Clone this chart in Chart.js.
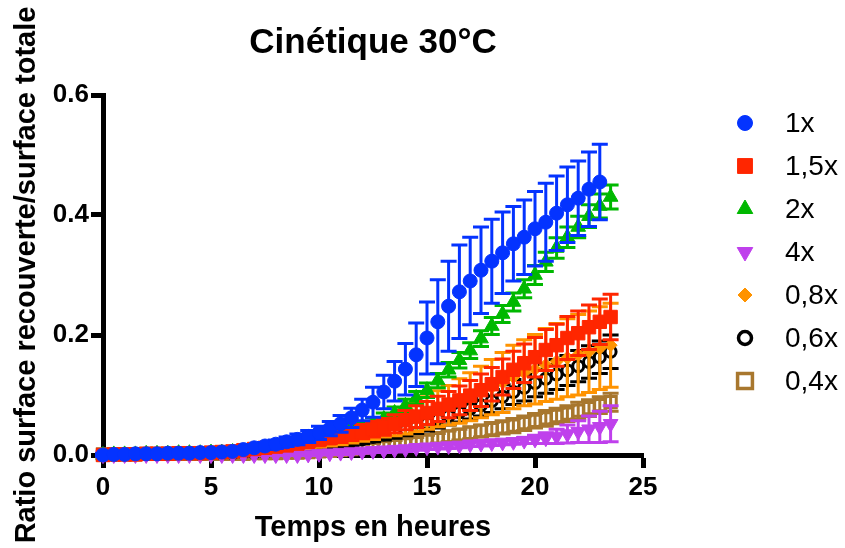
<!DOCTYPE html>
<html>
<head>
<meta charset="utf-8">
<script src="https://cdn.jsdelivr.net/npm/chart.js@4.4.1/dist/chart.umd.min.js"></script>
<style>
    html, body { margin: 0; padding: 0; background: #fff; }
</style>
</head>
<body>
<canvas id="chart" width="845" height="548"></canvas>
<script>
// ---------------------------------------------------------------------------
// Data
// ---------------------------------------------------------------------------

const times = [0, 0.5, 1, 1.5, 2, 2.5, 3, 3.5, 4, 4.5, 5, 5.5, 6, 6.5, 7, 7.5, 8, 8.5, 9, 9.5,
    10, 10.5, 11, 11.5, 12, 12.5, 13, 13.5, 14, 14.5, 15, 15.5, 16, 16.5, 17, 17.5, 18, 18.5, 19, 19.5,
    20, 20.5, 21, 21.5, 22, 22.5, 23, 23.5];

const seriesNames = ['1x', '1,5x', '2x', '4x', '0,8x', '0,6x', '0,4x'];

const mean1x = [0.000, 0.001, 0.001, 0.002, 0.002, 0.002, 0.003, 0.003, 0.003, 0.004, 0.004, 0.005,
    0.006, 0.009, 0.012, 0.015, 0.018, 0.022, 0.026, 0.031, 0.037, 0.044, 0.052, 0.062, 0.075, 0.088,
    0.105, 0.123, 0.143, 0.167, 0.195, 0.222, 0.248, 0.272, 0.290, 0.308, 0.323, 0.337, 0.352, 0.363,
    0.377, 0.388, 0.403, 0.417, 0.428, 0.443, 0.455, null];
const err1x = [0.002, 0.002, 0.002, 0.002, 0.002, 0.002, 0.002, 0.002, 0.002, 0.002, 0.002, 0.002,
    0.003, 0.004, 0.005, 0.006, 0.007, 0.008, 0.009, 0.010, 0.011, 0.012, 0.014, 0.016, 0.018, 0.025,
    0.028, 0.033, 0.043, 0.053, 0.060, 0.070, 0.075, 0.078, 0.073, 0.072, 0.070, 0.068, 0.062, 0.062,
    0.062, 0.065, 0.062, 0.063, 0.062, 0.062, 0.063, null];

const mean15x = [0.000, 0.001, 0.001, 0.001, 0.002, 0.002, 0.002, 0.003, 0.003, 0.003, 0.004, 0.005,
    0.006, 0.008, 0.010, 0.012, 0.014, 0.016, 0.019, 0.022, 0.025, 0.028, 0.031, 0.035, 0.039, 0.043,
    0.047, 0.052, 0.058, 0.064, 0.070, 0.077, 0.084, 0.091, 0.099, 0.108, 0.118, 0.130, 0.142, 0.153,
    0.163, 0.175, 0.183, 0.195, 0.203, 0.213, 0.222, 0.230];
const err15x = [0.002, 0.002, 0.002, 0.002, 0.002, 0.002, 0.002, 0.002, 0.002, 0.002, 0.002, 0.002,
    0.003, 0.003, 0.004, 0.004, 0.005, 0.005, 0.006, 0.007, 0.008, 0.009, 0.010, 0.011, 0.012, 0.013,
    0.014, 0.015, 0.016, 0.018, 0.019, 0.021, 0.022, 0.024, 0.025, 0.027, 0.028, 0.030, 0.031, 0.032,
    0.033, 0.034, 0.035, 0.036, 0.037, 0.037, 0.038, 0.038];

const mean2x = [0.000, 0.001, 0.001, 0.001, 0.002, 0.002, 0.002, 0.003, 0.003, 0.003, 0.004, 0.004,
    0.005, 0.006, 0.008, 0.010, 0.012, 0.015, 0.018, 0.022, 0.027, 0.033, 0.038, 0.043, 0.047, 0.053,
    0.060, 0.070, 0.082, 0.095, 0.108, 0.124, 0.142, 0.158, 0.174, 0.194, 0.215, 0.235, 0.255, 0.277,
    0.300, 0.322, 0.345, 0.363, 0.380, 0.398, 0.415, 0.430];
const err2x = [0.002, 0.002, 0.002, 0.002, 0.002, 0.002, 0.002, 0.002, 0.002, 0.002, 0.002, 0.002,
    0.003, 0.003, 0.004, 0.004, 0.005, 0.005, 0.006, 0.006, 0.007, 0.007, 0.008, 0.008, 0.009, 0.009,
    0.010, 0.010, 0.011, 0.011, 0.012, 0.012, 0.012, 0.013, 0.013, 0.013, 0.014, 0.014, 0.015, 0.015,
    0.016, 0.016, 0.017, 0.017, 0.018, 0.019, 0.020, 0.020];

const mean4x = [0.000, 0.000, 0.000, 0.000, 0.000, 0.000, 0.000, 0.000, 0.000, 0.000, 0.000, 0.000,
    0.000, 0.000, 0.000, 0.000, 0.000, 0.000, 0.000, 0.001, 0.002, 0.003, 0.004, 0.005, 0.006, 0.007,
    0.008, 0.009, 0.010, 0.012, 0.013, 0.014, 0.015, 0.016, 0.018, 0.019, 0.020, 0.021, 0.022, 0.024,
    0.026, 0.028, 0.031, 0.035, 0.039, 0.043, 0.047, 0.052];
const err4x = [0.001, 0.001, 0.001, 0.001, 0.001, 0.001, 0.001, 0.001, 0.001, 0.001, 0.001, 0.001,
    0.001, 0.001, 0.001, 0.001, 0.001, 0.001, 0.001, 0.002, 0.002, 0.002, 0.003, 0.003, 0.003, 0.003,
    0.004, 0.004, 0.004, 0.004, 0.004, 0.004, 0.004, 0.004, 0.004, 0.004, 0.004, 0.004, 0.004, 0.005,
    0.007, 0.009, 0.012, 0.015, 0.018, 0.022, 0.026, 0.030];

const mean08x = [0.000, 0.001, 0.001, 0.001, 0.002, 0.002, 0.002, 0.003, 0.003, 0.003, 0.004, 0.004,
    0.005, 0.006, 0.008, 0.010, 0.012, 0.014, 0.016, 0.019, 0.022, 0.025, 0.028, 0.032, 0.036, 0.040,
    0.045, 0.050, 0.056, 0.063, 0.070, 0.077, 0.083, 0.090, 0.097, 0.105, 0.113, 0.121, 0.130, 0.137,
    0.143, 0.150, 0.156, 0.162, 0.167, 0.172, 0.178, 0.183];
const err08x = [0.002, 0.002, 0.002, 0.002, 0.002, 0.002, 0.002, 0.002, 0.002, 0.002, 0.002, 0.002,
    0.003, 0.003, 0.004, 0.004, 0.005, 0.006, 0.007, 0.008, 0.009, 0.010, 0.011, 0.012, 0.013, 0.014,
    0.015, 0.018, 0.021, 0.024, 0.027, 0.030, 0.033, 0.037, 0.040, 0.043, 0.046, 0.050, 0.053, 0.055,
    0.058, 0.061, 0.063, 0.065, 0.067, 0.068, 0.069, 0.070];

const mean06x = [0.000, 0.000, 0.001, 0.001, 0.001, 0.001, 0.002, 0.002, 0.002, 0.002, 0.003, 0.003,
    0.003, 0.004, 0.004, 0.005, 0.006, 0.007, 0.009, 0.011, 0.013, 0.016, 0.019, 0.022, 0.026, 0.030,
    0.034, 0.038, 0.043, 0.048, 0.053, 0.059, 0.065, 0.071, 0.077, 0.083, 0.090, 0.097, 0.105, 0.112,
    0.120, 0.127, 0.134, 0.141, 0.148, 0.155, 0.163, 0.172];
const err06x = [0.001, 0.001, 0.001, 0.001, 0.001, 0.001, 0.001, 0.001, 0.001, 0.001, 0.001, 0.001,
    0.002, 0.002, 0.002, 0.003, 0.003, 0.003, 0.004, 0.004, 0.005, 0.005, 0.006, 0.006, 0.007, 0.008,
    0.009, 0.010, 0.011, 0.012, 0.013, 0.014, 0.015, 0.016, 0.017, 0.018, 0.019, 0.020, 0.021, 0.022,
    0.023, 0.024, 0.025, 0.025, 0.026, 0.027, 0.027, 0.028];

const mean04x = [0.001, 0.001, 0.001, 0.001, 0.002, 0.002, 0.002, 0.002, 0.002, 0.002, 0.002, 0.002,
    0.002, 0.002, 0.003, 0.003, 0.003, 0.004, 0.004, 0.005, 0.006, 0.007, 0.008, 0.010, 0.012, 0.014,
    0.016, 0.018, 0.020, 0.022, 0.025, 0.028, 0.031, 0.034, 0.037, 0.040, 0.043, 0.046, 0.049, 0.053,
    0.057, 0.061, 0.065, 0.069, 0.074, 0.078, 0.083, 0.088];
const err04x = [0.002, 0.002, 0.002, 0.002, 0.002, 0.002, 0.002, 0.002, 0.002, 0.002, 0.002, 0.002,
    0.002, 0.002, 0.002, 0.002, 0.003, 0.003, 0.003, 0.003, 0.004, 0.004, 0.004, 0.005, 0.005, 0.005,
    0.006, 0.006, 0.007, 0.007, 0.008, 0.008, 0.009, 0.009, 0.010, 0.010, 0.011, 0.011, 0.012, 0.012,
    0.012, 0.013, 0.013, 0.013, 0.014, 0.014, 0.014, 0.015];

const xTicks = [0, 5, 10, 15, 20, 25];
const yTicks = [0, 0.2, 0.4, 0.6];

// ---------------------------------------------------------------------------
// Styles
// ---------------------------------------------------------------------------

const fontFamily = '"Liberation Sans", Arial, Helvetica, sans-serif';

const seriesStyles = [
    { color: '#0433ff', pointStyle: 'circle', radius: 7, rotation: 0, fill: true },
    { color: '#ff2600', pointStyle: 'rect', radius: 9.5, rotation: 0, fill: true },
    { color: '#00b800', pointStyle: 'triangle', radius: 8.5, rotation: 0, fill: true },
    { color: '#bf40ec', pointStyle: 'triangle', radius: 8.5, rotation: 180, fill: true },
    { color: '#ff9300', pointStyle: 'rectRot', radius: 6.5, rotation: 0, fill: true },
    { color: '#000000', pointStyle: 'circle', radius: 5.5, rotation: 0, fill: false },
    { color: '#a8772e', pointStyle: 'rect', radius: 8, rotation: 0, fill: false }
];

const seriesMeans = [mean1x, mean15x, mean2x, mean4x, mean08x, mean06x, mean04x];
const seriesErrors = [err1x, err15x, err2x, err4x, err08x, err06x, err04x];

// ---------------------------------------------------------------------------
// Plugins
// ---------------------------------------------------------------------------

// mean +/- error bars, drawn just under each dataset's own markers
const errorBars = {
    id: 'errorBars',
    beforeDatasetDraw(chart, args) {
        const errors = seriesErrors[args.index];
        const means = seriesMeans[args.index];
        const color = seriesStyles[args.index].color;
        const { ctx, scales: { x, y } } = chart;
        ctx.save();
        ctx.strokeStyle = color;
        ctx.lineWidth = 3;
        ctx.lineCap = 'butt';
        for (let i = 0; i < times.length; i++) {
            if (means[i] === null || errors[i] === null) continue;
            const px = x.getPixelForValue(times[i]);
            const top = y.getPixelForValue(means[i] + errors[i]);
            const bottom = y.getPixelForValue(means[i] - errors[i]);
            ctx.beginPath();
            ctx.moveTo(px, top);
            ctx.lineTo(px, bottom);
            ctx.moveTo(px - 8, top);
            ctx.lineTo(px + 8, top);
            ctx.moveTo(px - 8, bottom);
            ctx.lineTo(px + 8, bottom);
            ctx.stroke();
        }
        ctx.restore();
    }
};

// Prism-like legend on the right
const sideLegend = {
    id: 'sideLegend',
    afterDraw(chart) {
        const ctx = chart.ctx;
        ctx.save();
        ctx.font = '28px ' + fontFamily;
        ctx.textBaseline = 'middle';
        seriesNames.forEach((name, i) => {
            const s = seriesStyles[i];
            const cy = 123 + i * 43;
            ctx.fillStyle = s.fill ? s.color : 'rgba(0,0,0,0)';
            ctx.strokeStyle = s.color;
            ctx.lineWidth = s.fill ? 1 : 3.5;
            Chart.helpers.drawPoint(ctx, {
                pointStyle: s.pointStyle,
                radius: s.pointStyle === 'rect' ? 10.5 : s.radius + (s.fill ? 0.5 : 1),
                rotation: s.rotation,
                borderWidth: s.fill ? 1 : 3.5
            }, 745, cy);
            ctx.fillStyle = '#000';
            ctx.fillText(name, 785, cy + 1);
        });
        ctx.restore();
    }
};

// ---------------------------------------------------------------------------
// Chart
// ---------------------------------------------------------------------------

const datasets = seriesNames.map((name, i) => {
    const s = seriesStyles[i];
    return {
        label: name,
        data: seriesMeans[i].map((v, j) => ({ x: times[j], y: v })),
        showLine: false,
        clip: false,
        pointStyle: s.pointStyle,
        pointRotation: s.rotation,
        pointRadius: s.radius,
        pointHoverRadius: s.radius,
        pointBackgroundColor: s.fill ? s.color : 'rgba(0,0,0,0)',
        pointBorderColor: s.color,
        pointBorderWidth: s.fill ? 1 : 3
    };
});

new Chart(document.getElementById('chart'), {
    type: 'scatter',
    data: { datasets },
    options: {
        responsive: false,
        animation: false,
        events: [],
        layout: { padding: { left: 0, right: 202, top: 0, bottom: 0 } },
        plugins: {
            legend: { display: false },
            tooltip: { enabled: false },
            title: {
                display: true,
                text: 'Cinétique 30°C',
                fullSize: false,
                color: '#000',
                font: { family: fontFamily, size: 35, weight: 'bold' },
                padding: { top: 22, bottom: 31 }
            }
        },
        scales: {
            x: {
                type: 'linear',
                min: 0,
                max: 25,
                afterFit(scale) { scale.height = 93; },
                afterBuildTicks(scale) { scale.ticks = xTicks.map(v => ({ value: v })); },
                border: { display: true, color: '#000', width: 5 },
                grid: { display: true, drawOnChartArea: false, drawTicks: true, tickLength: 13, tickWidth: 5, tickColor: '#000' },
                ticks: { color: '#000', padding: 4, maxRotation: 0, font: { family: fontFamily, size: 26, weight: 'bold' } },
                title: {
                    display: true,
                    text: 'Temps en heures',
                    color: '#000',
                    font: { family: fontFamily, size: 29, weight: 'bold' },
                    padding: { top: 0, bottom: 3 }
                }
            },
            y: {
                type: 'linear',
                min: 0,
                max: 0.6,
                afterFit(scale) { scale.width = 103; },
                afterBuildTicks(scale) { scale.ticks = yTicks.map(v => ({ value: v })); },
                border: { display: true, color: '#000', width: 5 },
                grid: { display: true, drawOnChartArea: false, drawTicks: true, tickLength: 12, tickWidth: 5, tickColor: '#000' },
                ticks: {
                    color: '#000',
                    padding: 2,
                    font: { family: fontFamily, size: 26, weight: 'bold' },
                    callback: v => v.toFixed(1)
                },
                title: {
                    display: true,
                    text: 'Ratio surface recouverte/surface totale',
                    color: '#000',
                    font: { family: fontFamily, size: 29, weight: 'bold' },
                    padding: { top: 10, bottom: 0 }
                }
            }
        }
    },
    plugins: [errorBars, sideLegend]
});
</script>
</body>
</html>
